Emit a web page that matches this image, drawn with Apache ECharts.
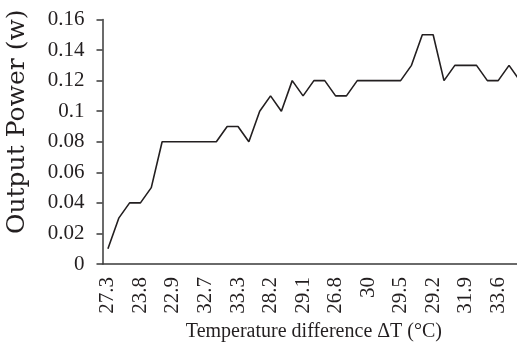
<!DOCTYPE html>
<html>
<head>
<meta charset="utf-8">
<script src="https://cdn.jsdelivr.net/npm/echarts@6/dist/echarts.min.js"></script>
<style>html,body{margin:0;padding:0;background:#fff;}#c{width:517px;height:342px;}</style>
</head>
<body>
<div id="c"></div>
<script>
// Output power per measurement (W)
var powerValues = [0.01,0.03,0.04,0.04,0.05,0.08,0.08,0.08,0.08,0.08,0.08,0.09,0.09,0.08,0.10,0.11,0.10,0.12,0.11,0.12,
                   0.12,0.11,0.11,0.12,0.12,0.12,0.12,0.12,0.13,0.15,0.15,0.12,0.13,0.13,0.13,0.12,0.12,0.13,0.12];
// Temperature difference labels shown on every third category
var tickLabels = ['27.3','23.8','22.9','32.7','33.3','28.2','29.1','26.8','30','29.5','29.2','31.9','33.6'];
var labelStep = 3;
var categories = powerValues.map(function(v, i){ return String(i); });
var yTicks = [0,0.02,0.04,0.06,0.08,0.1,0.12,0.14,0.16];

var chart = echarts.init(document.getElementById('c'));
var serif = 'Liberation Serif';
chart.setOption({
  animation: false,
  grid: {left: 102.5, right: -8.3, top: 19.5, bottom: 78, containLabel: false, outerBoundsMode: 'none'},
  xAxis: {
    type: 'category',
    data: categories,
    boundaryGap: true,
    name: 'Temperature difference ΔT (°C)',
    nameLocation: 'middle',
    nameGap: 58,
    nameTextStyle: {fontFamily: serif, fontSize: 20, color: '#231f20'},
    axisLine: {show: true, lineStyle: {color: '#3a3a3a', width: 1.5}},
    axisTick: {show: false},
    axisLabel: {
      interval: labelStep - 1,
      rotate: 90,
      margin: 13,
      fontFamily: serif, fontSize: 21, color: '#231f20',
      formatter: function(v){ var i = Number(v); return i % labelStep === 0 ? tickLabels[i / labelStep] : ''; }
    },
    splitLine: {show: false}
  },
  yAxis: {
    type: 'value',
    min: yTicks[0], max: yTicks[yTicks.length - 1], interval: 0.02,
    name: 'Output Power (w)',
    nameLocation: 'middle',
    nameGap: 73,
    nameTextStyle: {fontFamily: 'DejaVu Serif', fontSize: 25, color: '#231f20', padding: [0,0,0,40]},
    axisLine: {show: true, lineStyle: {color: '#3a3a3a', width: 1.5}},
    axisTick: {show: true, length: 6, inside: false, lineStyle: {color: '#3a3a3a', width: 1.5}},
    axisLabel: {margin: 18, fontFamily: serif, fontSize: 21, color: '#231f20',
      formatter: function(v){ return String(Math.round(v * 100) / 100); }},
    splitLine: {show: false}
  },
  series: [{
    type: 'line',
    data: powerValues,
    showSymbol: false,
    symbol: 'none',
    lineStyle: {color: '#231f20', width: 1.6},
    clip: true
  }]
});
</script>
</body>
</html>
